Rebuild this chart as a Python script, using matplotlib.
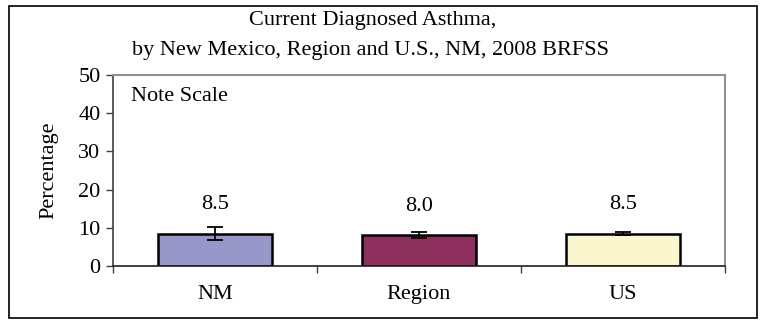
import matplotlib
matplotlib.use("Agg")
import matplotlib.pyplot as plt
from matplotlib.patches import Rectangle

categories = ["NM", "Region", "US"]
values = [8.5, 8.0, 8.5]
ci_low = [6.9, 7.3, 8.2]
ci_high = [10.1, 8.9, 8.8]
bar_colors = ["#9797CA", "#8E305E", "#FAF6CE"]
y_ticks = [0, 10, 20, 30, 40, 50]

plt.rcParams["font.family"] = ["Liberation Serif", "DejaVu Serif"]
FS = 16

fig = plt.figure(figsize=(7.63, 3.2), dpi=100)
ax = fig.add_axes([113 / 763, 54 / 320, 612 / 763, 191 / 320])

x = list(range(len(categories)))
ax.bar(x, values, width=0.56, color=bar_colors, edgecolor="black",
       linewidth=1.8, zorder=2)
yerr = [[v - lo for v, lo in zip(values, ci_low)],
        [hi - v for v, hi in zip(values, ci_high)]]
ax.errorbar(x, values, yerr=yerr, fmt="none", ecolor="black",
            elinewidth=1.3, capsize=6, capthick=1.3, zorder=3)

for xi, v in zip(x, values):
    ax.annotate(f"{v:.1f}", (xi, v), xytext=(0, 29), textcoords="offset pixels",
                ha="center", va="center", fontsize=FS)

ax.set_xlim(-0.5, 2.5)
ax.set_ylim(0, 50)
ax.set_yticks(y_ticks)
ax.set_yticklabels([str(t) for t in y_ticks], fontsize=FS)
ax.set_xticks([-0.5, 0.5, 1.5, 2.5])
ax.set_xticklabels([])
ax.set_xticks(x, minor=True)
ax.set_xticklabels(categories, minor=True, fontsize=FS)
ax.tick_params(axis="x", which="major", direction="out", length=5,
               width=1, color="#404040")
ax.tick_params(axis="x", which="minor", length=0, pad=14)
ax.tick_params(axis="y", direction="out", length=5, width=1,
               color="#404040", pad=4)

ax.spines["left"].set_color("#404040")
ax.spines["left"].set_linewidth(1.2)
ax.spines["bottom"].set_color("#202020")
ax.spines["bottom"].set_linewidth(1.2)
ax.spines["top"].set_color("#909090")
ax.spines["top"].set_linewidth(1.5)
ax.spines["right"].set_color("#909090")
ax.spines["right"].set_linewidth(1.5)

ax.set_ylabel("Percentage", fontsize=FS, labelpad=14)
ax.text(0.03, 0.885, "Note Scale", transform=ax.transAxes, ha="left",
        va="center", fontsize=FS)

fig.text(373 / 763, 1 - 20 / 320, "Current Diagnosed Asthma,",
         ha="center", va="center", fontsize=FS)
fig.text(371 / 763, 1 - 50 / 320,
         "by New Mexico, Region and U.S., NM, 2008 BRFSS",
         ha="center", va="center", fontsize=FS)

fig.patches.append(Rectangle((9 / 763, 2 / 320), 748 / 763, 312.5 / 320,
                             transform=fig.transFigure, fill=False,
                             edgecolor="black", linewidth=1.2))

fig.savefig("out.png", dpi=100)
